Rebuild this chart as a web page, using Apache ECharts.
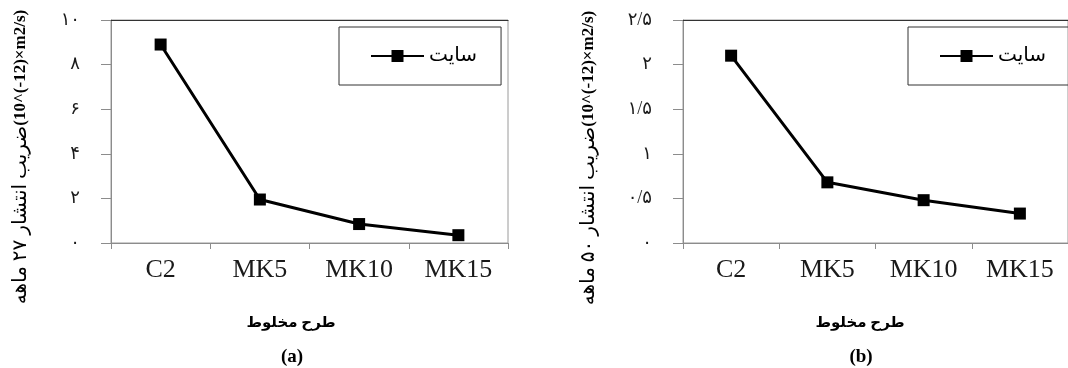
<!DOCTYPE html>
<html>
<head>
<meta charset="utf-8">
<script src="https://cdn.jsdelivr.net/npm/echarts@6/dist/echarts.min.js"></script>
<style>
html,body{margin:0;padding:0;background:#fff;}
#c{width:1068px;height:368px;}
</style>
</head>
<body>
<div id="c"></div>
<script>
// ---- data ----
const categories = ['C2', 'MK5', 'MK10', 'MK15'];
const seriesName = 'سایت';
const valuesA = [8.9, 1.95, 0.85, 0.35];   // 27 months
const valuesB = [2.1, 0.68, 0.48, 0.33];   // 50 months
const yTicksA = ['۰', '۲', '۴', '۶', '۸', '۱۰'];
const yTicksB = ['۰', '۰/۵', '۱', '۱/۵', '۲', '۲/۵'];
const yNameA = 'ضریب انتشار ۲۷ ماهه';
const yNameB = 'ضریب انتشار ۵۰ ماهه';
const yUnit = '(10^(-12)×m2/s)';
const xName = 'طرح مخلوط';
const captionA = '(a)';
const captionB = '(b)';

const serif = "'Liberation Serif','DejaVu Sans',serif";
const chart = echarts.init(document.getElementById('c'), null, {renderer: 'canvas'});

function catAxis(gi) {
  return {
    type: 'category', gridIndex: gi, data: categories, boundaryGap: true,
    axisLine: {lineStyle: {color: '#8c8c8c', width: 1}},
    axisTick: {show: true, length: 6, lineStyle: {color: '#8c8c8c'}},
    axisLabel: {fontFamily: serif, fontSize: 26, color: '#1a1a1a', margin: 14}
  };
}
function topAxis(gi) {
  return {
    type: 'category', gridIndex: gi, position: 'top', data: categories,
    axisLine: {show: true, lineStyle: {color: '#333', width: 1}},
    axisTick: {show: false}, axisLabel: {show: false}
  };
}
function valAxis(gi, max, interval, ticks) {
  return {
    type: 'value', gridIndex: gi, min: 0, max: max, interval: interval,
    splitLine: {show: false},
    axisLine: {show: true, lineStyle: {color: '#8c8c8c', width: 1}},
    axisTick: {show: true, inside: false, length: 10, lineStyle: {color: '#8c8c8c'}},
    axisLabel: {
      fontFamily: serif, fontSize: 18, color: '#1a1a1a', margin: 31,
      formatter: function (v, i) { return ticks[i]; }
    }
  };
}
function lineSeries(xi, yi, data) {
  return {
    type: 'line', name: seriesName, xAxisIndex: xi, yAxisIndex: yi, data: data,
    symbol: 'rect', symbolSize: 12,
    lineStyle: {color: '#000', width: 3},
    itemStyle: {color: '#000'},
    animation: false
  };
}
function legendBox(left) {
  return {
    left: left, top: 27, orient: 'horizontal',
    data: [seriesName],
    itemWidth: 53, itemHeight: 15, itemGap: 0,
    padding: [19, 24, 19, 31],
    borderColor: '#333', borderWidth: 1,
    textStyle: {fontFamily: serif, fontSize: 20, color: '#000', padding: [0, 0, 0, 0]},
    selectedMode: false
  };
}
function txt(x, y, text, size, bold, rot) {
  return {
    type: 'text', x: x, y: y, rotation: rot || 0,
    style: {text: text, fontFamily: serif, fontSize: size, fontWeight: bold ? 'bold' : 'normal',
            fill: '#000', align: 'center', verticalAlign: 'middle'}
  };
}
function yTitle(x, y, arabic) {
  return {
    type: 'text', x: x, y: y, rotation: Math.PI / 2,
    style: {
      text: '{ar|' + arabic + '}{la|' + yUnit + '}',
      align: 'center', verticalAlign: 'middle',
      rich: {
        ar: {fontFamily: serif, fontSize: 20, fontWeight: 'normal', fill: '#000', color: '#000'},
        la: {fontFamily: serif, fontSize: 17, fontWeight: 'bold', fill: '#000', color: '#000'}
      }
    }
  };
}

chart.setOption({
  animation: false,
  backgroundColor: '#fff',
  grid: [
    {left: 111, right: 560, top: 20, bottom: 125, show: true, borderColor: '#9a9a9a', borderWidth: 1},
    {left: 683, right: -4, top: 20, bottom: 125, show: true, borderColor: '#9a9a9a', borderWidth: 1}
  ],
  xAxis: [catAxis(0), catAxis(1), topAxis(0), topAxis(1)],
  yAxis: [valAxis(0, 10, 2, yTicksA), valAxis(1, 2.5, 0.5, yTicksB)],
  legend: [legendBox(339), legendBox(908)],
  series: [lineSeries(0, 0, valuesA), lineSeries(1, 1, valuesB)],
  graphic: [
    yTitle(21, 157, yNameA),
    yTitle(589, 158, yNameB),
    txt(291, 323, xName, 15, true),
    txt(860, 323, xName, 15, true),
    txt(292, 357, captionA, 19, true),
    txt(861, 357, captionB, 19, true)
  ]
});
</script>
</body>
</html>
